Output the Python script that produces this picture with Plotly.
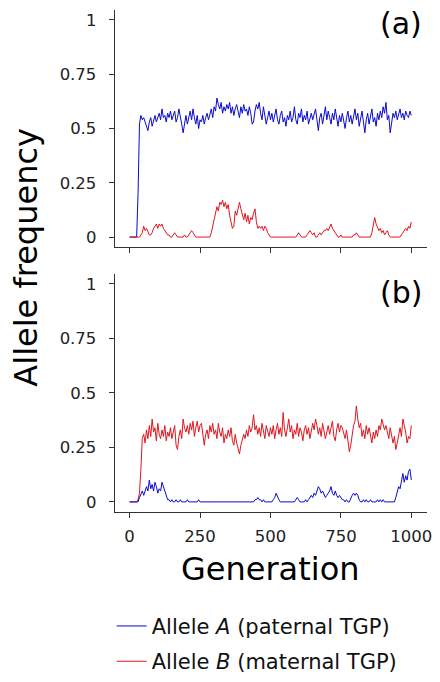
import plotly.graph_objects as go

generation = list(range(0, 1001, 5))

# Panel (a): allele frequencies
a_alleleA = [
    0, 0, 0, 0, 0, 0, 0.20, 0.52, 0.56,
    0.54, 0.55, 0.53, 0.52, 0.49, 0.53, 0.55, 0.51, 0.54, 0.56, 0.53, 0.55,
    0.57, 0.54, 0.59, 0.55, 0.56, 0.53, 0.57, 0.55, 0.58, 0.54,
    0.56, 0.58, 0.53, 0.55, 0.59, 0.56, 0.52, 0.48, 0.53, 0.56,
    0.52, 0.55, 0.58, 0.54, 0.59, 0.55, 0.52, 0.56, 0.50, 0.54,
    0.53, 0.56, 0.52, 0.55, 0.57, 0.54, 0.56, 0.59, 0.55, 0.60,
    0.58, 0.64, 0.61, 0.59, 0.62, 0.57, 0.60, 0.58, 0.61, 0.59,
    0.62, 0.57, 0.60, 0.56, 0.59, 0.61, 0.58, 0.55, 0.60, 0.57,
    0.61, 0.58, 0.59, 0.56, 0.60, 0.57, 0.52, 0.53, 0.58, 0.61,
    0.59, 0.62, 0.57, 0.54, 0.60, 0.56, 0.52, 0.55, 0.58, 0.54,
    0.57, 0.53, 0.56, 0.59, 0.54, 0.52, 0.56, 0.58, 0.53, 0.55,
    0.51, 0.56, 0.54, 0.58, 0.53, 0.55, 0.60, 0.54, 0.52, 0.57,
    0.55, 0.59, 0.53, 0.56, 0.54, 0.58, 0.52, 0.55, 0.57, 0.54,
    0.56, 0.59, 0.54, 0.49, 0.55, 0.57, 0.52, 0.56, 0.60, 0.54,
    0.58, 0.55, 0.52, 0.57, 0.54, 0.59, 0.55, 0.51, 0.56, 0.53,
    0.57, 0.54, 0.50, 0.55, 0.58, 0.53, 0.56, 0.52, 0.55, 0.59,
    0.54, 0.57, 0.51, 0.55, 0.58, 0.53, 0.48, 0.54, 0.57, 0.52,
    0.56, 0.59, 0.53, 0.55, 0.51, 0.57, 0.54, 0.58, 0.55, 0.60,
    0.57, 0.62, 0.54, 0.56, 0.48, 0.53, 0.57, 0.55, 0.58, 0.54,
    0.56, 0.59, 0.55, 0.57, 0.54, 0.58, 0.56, 0.55, 0.58, 0.56,
]
a_alleleB = [
    0, 0, 0, 0, 0, 0, 0, 0, 0.01,
    0.02, 0.05, 0.03, 0.04, 0.02, 0.01, 0.01, 0.02, 0.04, 0.05, 0.06, 0.04,
    0.06, 0.05, 0.06, 0.04, 0.03, 0.02, 0.01, 0.01, 0.0, 0.0,
    0.01, 0.02, 0.01, 0.0, 0.0, 0.0, 0.0, 0.0, 0.01, 0.0,
    0.0, 0.01, 0.02, 0.03, 0.02, 0.01, 0.0, 0.0, 0.0, 0.0,
    0.0, 0.0, 0.0, 0.0, 0.0, 0.0, 0.0, 0.02, 0.05, 0.07,
    0.10, 0.14, 0.12, 0.16, 0.15, 0.17, 0.14, 0.16, 0.13, 0.15,
    0.10, 0.06, 0.04, 0.05, 0.12, 0.10, 0.14, 0.16, 0.13, 0.10,
    0.08, 0.11, 0.07, 0.10, 0.06, 0.09, 0.08, 0.11, 0.13, 0.07,
    0.04, 0.05, 0.04, 0.05, 0.03, 0.05, 0.04, 0.02, 0.01, 0.0,
    0.0, 0.0, 0.0, 0.0, 0.0, 0.0, 0.0, 0.0, 0.0, 0.0,
    0.0, 0.0, 0.0, 0.0, 0.0, 0.0, 0.0, 0.0, 0.01, 0.02,
    0.01, 0.0, 0.0, 0.0, 0.0, 0.01, 0.02, 0.03, 0.02, 0.01,
    0.02, 0.0, 0.0, 0.01, 0.02, 0.01, 0.02, 0.03, 0.03, 0.04,
    0.03, 0.05, 0.06, 0.04, 0.03, 0.02, 0.01, 0.0, 0.0, 0.01,
    0.0, 0.0, 0.0, 0.0, 0.0, 0.0, 0.0, 0.0, 0.01, 0.01,
    0.02, 0.01, 0.0, 0.0, 0.0, 0.0, 0.0, 0.0, 0.0, 0.0,
    0.0, 0.02, 0.05, 0.09, 0.06, 0.04, 0.03, 0.04, 0.02, 0.03,
    0.01, 0.02, 0.03, 0.01, 0.0, 0.0, 0.0, 0.0, 0.0, 0.0,
    0.0, 0.0, 0.01, 0.02, 0.03, 0.04, 0.03, 0.05, 0.04, 0.07,
]

# Panel (b): allele frequencies
b_alleleA = [
    0, 0, 0, 0, 0, 0, 0, 0.02, 0.04, 0.05, 0.03,
    0.05, 0.07, 0.05, 0.10, 0.06, 0.08, 0.05, 0.09, 0.07, 0.04,
    0.06, 0.05, 0.09, 0.07, 0.04, 0.03, 0.01, 0.01, 0.0, 0.01,
    0.0, 0.0, 0.01, 0.0, 0.0, 0.01, 0.0, 0.0, 0.0, 0.0,
    0.01, 0.0, 0.0, 0.0, 0.0, 0.0, 0.0, 0.0, 0.01, 0.0,
    0.0, 0.0, 0.0, 0.0, 0.0, 0.0, 0.0, 0.0, 0.0, 0.0,
    0.0, 0.0, 0.0, 0.0, 0.0, 0.0, 0.0, 0.0, 0.0, 0.0,
    0.0, 0.0, 0.0, 0.0, 0.0, 0.0, 0.0, 0.0, 0.0, 0.0,
    0.0, 0.0, 0.0, 0.0, 0.0, 0.0, 0.0, 0.0, 0.01, 0.01,
    0.02, 0.01, 0.01, 0.0, 0.01, 0.0, 0.0, 0.0, 0.0, 0.0,
    0.0, 0.01, 0.02, 0.04, 0.02, 0.01, 0.0, 0.0, 0.0, 0.0,
    0.0, 0.0, 0.0, 0.0, 0.0, 0.0, 0.0, 0.01, 0.02, 0.01,
    0.0, 0.0, 0.0, 0.0, 0.01, 0.0, 0.01, 0.02, 0.03, 0.02,
    0.04, 0.03, 0.05, 0.07, 0.06, 0.04, 0.05, 0.03, 0.02, 0.03,
    0.04, 0.05, 0.07, 0.04, 0.03, 0.05, 0.03, 0.02, 0.03, 0.02,
    0.01, 0.01, 0.0, 0.01, 0.0, 0.0, 0.02, 0.03, 0.04, 0.03,
    0.04, 0.03, 0.01, 0.0, 0.0, 0.01, 0.0, 0.01, 0.0, 0.0,
    0.01, 0.0, 0.0, 0.0, 0.0, 0.01, 0.0, 0.01, 0.0, 0.01,
    0.0, 0.0, 0.0, 0.0, 0.0, 0.0, 0.0, 0.0, 0.02, 0.05,
    0.07, 0.06, 0.10, 0.13, 0.09, 0.12, 0.10, 0.14, 0.15, 0.10,
]
b_alleleB = [
    0, 0, 0, 0, 0, 0, 0.01, 0.04, 0.15, 0.29, 0.31,
    0.27, 0.33, 0.29, 0.35, 0.30, 0.38, 0.32, 0.34, 0.28, 0.36,
    0.31, 0.29, 0.33, 0.30, 0.35, 0.28, 0.32, 0.30, 0.34, 0.29,
    0.32, 0.35, 0.26, 0.24, 0.30, 0.33, 0.29, 0.38, 0.34, 0.32,
    0.35, 0.31, 0.36, 0.33, 0.37, 0.30, 0.34, 0.37, 0.32, 0.35,
    0.36, 0.30, 0.26, 0.31, 0.33, 0.29, 0.35, 0.32, 0.36, 0.31,
    0.33, 0.29, 0.36, 0.32, 0.30, 0.34, 0.27, 0.31, 0.29, 0.33,
    0.30, 0.34, 0.28, 0.26, 0.31, 0.27, 0.25, 0.22, 0.26, 0.28,
    0.31, 0.29, 0.33, 0.30, 0.35, 0.32, 0.34, 0.40, 0.33, 0.35,
    0.31, 0.34, 0.30, 0.36, 0.32, 0.29, 0.35, 0.33, 0.30, 0.34,
    0.31, 0.35, 0.29, 0.33, 0.36, 0.31, 0.34, 0.30, 0.41, 0.33,
    0.30, 0.34, 0.38, 0.32, 0.35, 0.29, 0.33, 0.31, 0.36, 0.30,
    0.34, 0.32, 0.28, 0.33, 0.35, 0.31, 0.34, 0.29, 0.32, 0.36,
    0.33, 0.38, 0.35, 0.31, 0.34, 0.30, 0.36, 0.33, 0.29, 0.32,
    0.35, 0.31, 0.34, 0.37, 0.30, 0.28, 0.33, 0.36, 0.32, 0.35,
    0.34, 0.31, 0.29, 0.33, 0.27, 0.23, 0.26, 0.31, 0.35, 0.37,
    0.44, 0.38, 0.34, 0.36, 0.30, 0.33, 0.29, 0.35, 0.31, 0.34,
    0.30, 0.27, 0.32, 0.29, 0.33, 0.30, 0.35, 0.33, 0.38, 0.36,
    0.33, 0.35, 0.32, 0.29, 0.34, 0.31, 0.27, 0.30, 0.24, 0.27,
    0.31, 0.34, 0.30, 0.38, 0.35, 0.32, 0.27, 0.30, 0.29, 0.35,
]

x_ticks = [0, 250, 500, 750, 1000]
x_ticklabels = ["0", "250", "500", "750", "1000"]
y_ticks = [0, 0.25, 0.5, 0.75, 1]
y_ticklabels = ["0", "0.25", "0.5", "0.75", "1"]
names = ["Allele <i>A</i> (paternal TGP)", "Allele <i>B</i> (maternal TGP)"]
panel_labels = ["(a)", "(b)"]

BLUE = "#0A0ACD"
RED = "#E0161E"
FONT = "DejaVu Sans"
W, H = 440, 682  # reference canvas, used to express positions as fractions


def px(x):
    return x / W


def py(y):
    return 1 - y / H


fig = go.Figure()
fig.add_trace(go.Scatter(x=generation, y=a_alleleA, mode="lines", name=names[0],
                         line=dict(color=BLUE, width=1), legendgroup="A",
                         xaxis="x", yaxis="y"))
fig.add_trace(go.Scatter(x=generation, y=a_alleleB, mode="lines", name=names[1],
                         line=dict(color=RED, width=1), legendgroup="B",
                         xaxis="x", yaxis="y"))
fig.add_trace(go.Scatter(x=generation, y=b_alleleB, mode="lines", name=names[1],
                         line=dict(color=RED, width=1), legendgroup="B",
                         showlegend=False, xaxis="x2", yaxis="y2"))
fig.add_trace(go.Scatter(x=generation, y=b_alleleA, mode="lines", name=names[0],
                         line=dict(color=BLUE, width=1), legendgroup="A",
                         showlegend=False, xaxis="x2", yaxis="y2"))

xdom = [px(116), px(432)]
top_dom = [py(250), py(10)]
bot_dom = [py(518), py(277)]
xrange_ = [-53, 1056]
yrange_ = [-0.046, 1.046]

common_x = dict(range=xrange_, tickvals=x_ticks, ticks="outside", ticklen=5,
                tickwidth=1, tickcolor="#333333", showline=True, linecolor="#333333",
                linewidth=1, showgrid=False, zeroline=False, domain=xdom,
                ticklabelstandoff=4, ticklabeloverflow="allow",
                tickfont=dict(family=FONT, size=16.5, color="#222222"))
common_y = dict(range=yrange_, tickvals=y_ticks, ticktext=y_ticklabels, ticks="outside",
                ticklen=5, tickwidth=1, tickcolor="#333333", showline=True,
                linecolor="#333333", linewidth=1, showgrid=False, zeroline=False,
                ticklabelstandoff=9,
                tickfont=dict(family=FONT, size=16.5, color="#222222"))

fig.update_layout(
    autosize=True,
    margin=dict(l=0, r=0, t=0, b=0),
    plot_bgcolor="white", paper_bgcolor="white",
    font=dict(family=FONT, color="#000000"),
    xaxis=dict(common_x, anchor="y", showticklabels=False),
    yaxis=dict(common_y, anchor="x", domain=top_dom),
    xaxis2=dict(common_x, anchor="y2", ticktext=x_ticklabels, showticklabels=True),
    yaxis2=dict(common_y, anchor="x2", domain=bot_dom),
    showlegend=True,
    legend=dict(x=px(113), y=py(613), xanchor="left", yanchor="top",
                font=dict(family=FONT, size=21, color="#111111"),
                tracegroupgap=5, bgcolor="rgba(0,0,0,0)"),
    annotations=[
        dict(text="Allele frequency", x=px(26), y=py(260), xref="paper", yref="paper",
             xanchor="center", yanchor="middle",
             textangle=-90, showarrow=False, font=dict(family=FONT, size=32)),
        dict(text="Generation", x=px(274), y=py(576), xref="paper", yref="paper",
             xanchor="center", yanchor="middle",
             showarrow=False, font=dict(family=FONT, size=32)),
        dict(text=panel_labels[0], x=px(406), y=py(24), xref="paper", yref="paper",
             xanchor="center", yanchor="middle",
             showarrow=False, font=dict(family=FONT, size=30)),
        dict(text=panel_labels[1], x=px(406), y=py(296), xref="paper", yref="paper",
             xanchor="center", yanchor="middle",
             showarrow=False, font=dict(family=FONT, size=30)),
    ],
)

# the figure fills the browser window exactly; drop the page's default 8px margin
fig.write_html(
    "out.html",
    default_width="100vw",
    default_height="100vh",
    config={"displayModeBar": False, "responsive": True},
    post_script="document.body.style.margin='0px';document.body.style.overflow='hidden';",
)
